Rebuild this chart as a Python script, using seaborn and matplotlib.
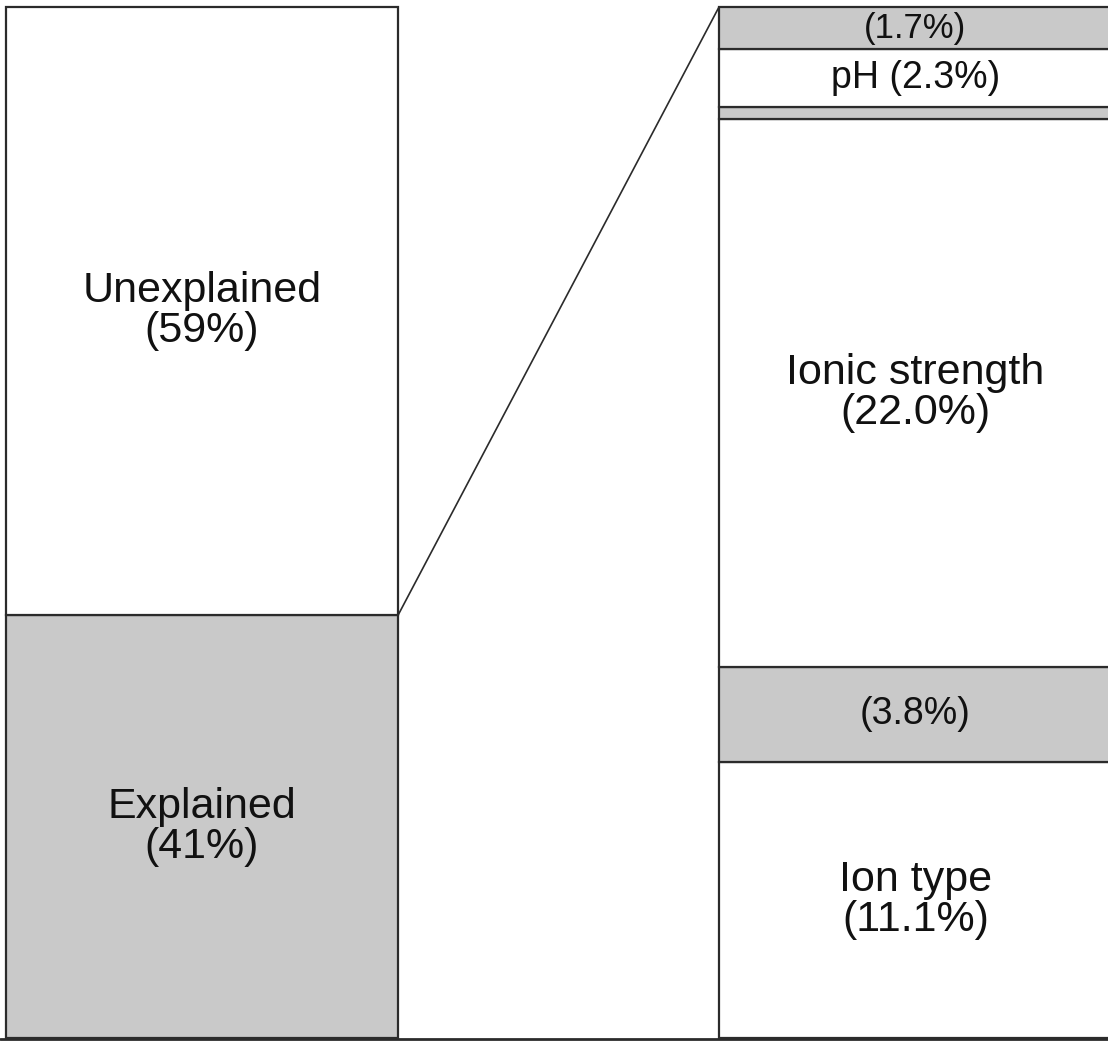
import matplotlib
matplotlib.use("Agg")
import matplotlib.pyplot as plt
from matplotlib.patches import ConnectionPatch
from matplotlib.lines import Line2D
import seaborn as sns

# datos: barra izquierda (varianza total)
left_parts = ["Explained", "Unexplained"]
left_values = [41, 59]
left_labels = ["Explained\n(41%)", "Unexplained\n(59%)"]

# datos: barra derecha (desglose de la parte explicada)
right_parts = ["Ion type", "resto 1", "Ionic strength", "resto 2", "pH", "resto 3"]
right_values = [11.1, 3.8, 22.0, 0.5, 2.3, 1.7]
right_labels = ["Ion type\n(11.1%)", "(3.8%)", "Ionic strength\n(22.0%)", "", "pH (2.3%)", "(1.7%)"]
right_sizes = [31, 27, 31, 10, 27, 25]

GRAY = "#c9c9c9"
EDGE = "#2b2b2b"

sns.set_theme(style="white")
plt.rcParams["font.family"] = ["Liberation Sans", "DejaVu Sans"]

W, H = 1108, 1041
fig = plt.figure(figsize=(W / 100, H / 100), dpi=100)

def px_axes(x0, x1, y_top, y_bot):
    return fig.add_axes([x0 / W, (H - y_bot) / H, (x1 - x0) / W, (y_bot - y_top) / H])

ax_l = px_axes(6, 398, 7, 1038)
ax_r = px_axes(719, 1112, 7, 1038)

# barra apilada con seaborn
def stacked(ax, values, colors):
    bottom = 0
    for val, col in zip(values, colors):
        sns.barplot(x=[0], y=[val], bottom=bottom, color=col, edgecolor=EDGE,
                    linewidth=1.6, width=1.0, saturation=1, errorbar=None, ax=ax)
        bottom += val
    for p in ax.patches:
        p.set_clip_on(False)
    ax.set_xlim(-0.5, 0.5)
    ax.set_ylim(0, bottom)
    ax.axis("off")

stacked(ax_l, left_values, [GRAY, "white"])
stacked(ax_r, right_values, ["white", GRAY, "white", GRAY, "white", GRAY])

# etiquetas
b = 0
for val, lab in zip(left_values, left_labels):
    ax_l.text(0, b + val / 2, lab, ha="center", va="center", fontsize=31,
              linespacing=1.0, color="#111111")
    b += val

b = 0
for val, lab, fs in zip(right_values, right_labels, right_sizes):
    if lab:
        ax_r.text(0, b + val / 2, lab, ha="center", va="center", fontsize=fs,
                  linespacing=1.0, color="#111111")
    b += val

# linea diagonal que conecta las barras
con = ConnectionPatch(xyA=(0.5, left_values[0]), coordsA=ax_l.transData,
                      xyB=(-0.5, sum(right_values)), coordsB=ax_r.transData,
                      color=EDGE, linewidth=1.2)
fig.add_artist(con)

# linea base
y_base = (H - 1038.5) / H
fig.add_artist(Line2D([0, 1], [y_base, y_base], transform=fig.transFigure,
                      color=EDGE, linewidth=2))

fig.savefig("out.png", dpi=100)
